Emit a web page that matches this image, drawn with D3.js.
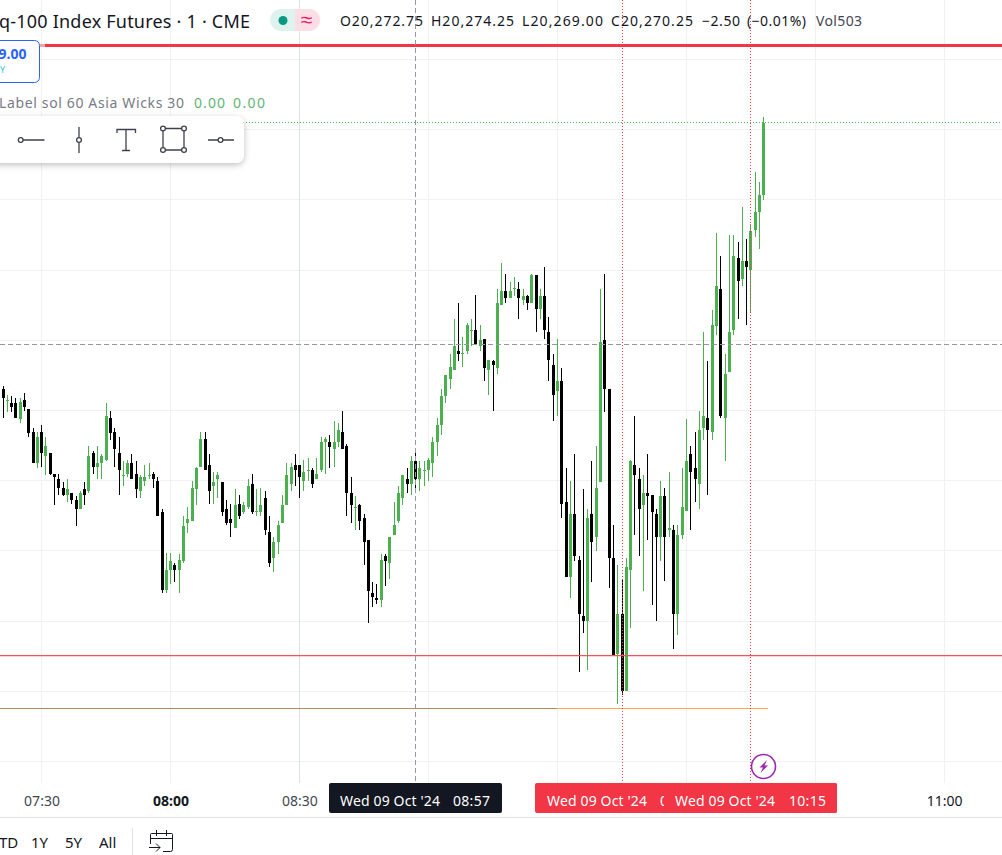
<!DOCTYPE html>
<html>
<head>
<meta charset="utf-8">
<script src="https://cdn.jsdelivr.net/npm/d3@7"></script>
<style>
  html, body { margin: 0; padding: 0; background: #fff; overflow: hidden; }
  svg { display: block; font-family: "Noto Sans", sans-serif; }
</style>
</head>
<body>
<svg id="chart" width="1002" height="855"></svg>
<script>
// prices are stored as points above this base, quarter point ticks
const basePrice = 20270;

const firstCandle = Date.UTC(2024, 9, 9, 7, 21);

const opens = [
  13, 11.5, 11, 11, 8.75, 11.5, 10.25, 7, 2.5, 7,
  3.5, 4, 1, .25, -1, -2, -1.75, -2.75, -4, -1.25,
  -1.5, 4, 2, 2.5, 3, 9, 7, 4, .75, 1,
  2.5, 1, -1.5, 0, .75, 1, 0, -4.5, -15.5, -12.75,
  -12, -12.75, -11.5, -6, -5.75, -1.25, 2, 6, 2.25, -.75,
  .25, -.25, -4, -5.5, -6.75, -3.25, -4.5, -3.75, -.5, -4.25,
  -4.5, -2.5, -7.25, -11, -8.75, -6, -3.5, -.5, 2.25, 2.25,
  0, 1.5, 1.5, .25, 1.5, 5.5, 5.5, 4.5, 5.5, 7,
  5, -1.75, -3.75, -3.5, -5.25, -8.5, -16, -16.75, -17, -10.75,
  -11.75, -7.75, -5.75, -2.5, .25, -.5, 2.75, .25, 1.5, 1.5,
  2.5, 5.5, 8, 12, 14.5, 15.75, 18.5, 18.25, 18.5, 21.5,
  21.5, 19.25, 20.25, 15.75, 17, 16, 25, 27, 26, 27.5,
  27.25, 25.75, 26.25, 25.25, 29.25, 24.5, 26.25, 21.25, 16.5, 12.75,
  14.25, -3, -13.75, -4.75, -11.25, -19.25, -20, -4.75, -8, -.25,
  20, 13, -11, -24.75, -19, -30, -12.75, 2.25, .25, -3.5,
  -1.75, -2, -4.75, -8, -2.25, -7, -7, -19, -7.75, -4.25,
  3.75, 1.75, -.5, 7.5, 9, 7, 22, 27.25, 9, 15.5,
  21.5, 31.75, 28.75, 31.25, 30, 35.75, 38.25, 40.75
];
const highs = [
  13.5, 12.25, 12, 11.75, 11.75, 12.5, 10.25, 7.5, 7, 8,
  6.25, 4, 1, 1, -.25, .25, -1.75, -2.25, -1.5, -.25,
  5, 4.25, 5, 3.75, 11, 10, 7.5, 6.25, 2.75, 3,
  3.75, 2.75, .75, 2.25, 2.5, 1.25, .5, -4, -10.25, -10.25,
  -11.75, -10.5, -5, -3.75, 0, 2, 7, 7, 3.75, 1.25,
  1.25, -.25, -2.75, -3.25, -1.25, -2, -3, .25, 1, -1.25,
  -1, -1.5, -5, -8, -5.75, -2, 2.5, 2.5, 3.75, 2.25,
  3, 3.25, 1.75, 3.25, 6.25, 6.25, 6.5, 8.5, 8.25, 10,
  5.25, .5, -2.25, -3.25, -4.75, -8.5, -14.5, -14.75, -10.5, -10.5,
  -8, -3, -.75, .75, 1.75, 3.5, 4.25, 2.75, 2.75, 3.25,
  6.25, 9, 13, 15, 18, 23, 25.25, 20.5, 22.5, 23,
  26.5, 22.25, 20.25, 17.25, 17.25, 27.25, 31, 29.5, 28.25, 29,
  28.25, 27.25, 26.5, 29.5, 29.25, 27.25, 30.5, 23.25, 18, 20.25,
  16, 1.75, 0, 3.75, -10.75, -1.25, -4, 2.75, 5, 27.25,
  29.5, 13, -6.25, -12, -14, -11, 3, 9.25, 1.75, .75,
  3.75, -2, -4, 0, -1, 1.25, -6.25, -6.25, 1.75, 8.75,
  5, 7, 10, 21.25, 17, 24.25, 35.25, 32, 18, 35,
  35, 34, 39, 34.5, 36.5, 44, 42.5, 51.75
];
const lows = [
  9, 9.75, 9.75, 9, 8.25, 10, 6.25, 2.5, 1.75, 2,
  .75, .75, -3.5, -2, -2.25, -3, -3.25, -6.5, -4, -3.5,
  -1.75, 1, .25, .25, 2.75, 5.75, 2, -2, -.75, .5,
  .25, -2.5, -2.5, -.75, .25, -1, -5, -16, -16, -14.75,
  -14.5, -16, -11.75, -7.5, -5.75, -3.5, 2, 1.5, -3.25, -3.25,
  -2.5, -5, -6.25, -8, -6.75, -5.5, -4.75, -4, -4.75, -5,
  -5, -7.75, -12.25, -13, -10.5, -6, -3.5, -1.5, -.75, -2.5,
  -1.5, 0, -1, .25, 1.25, 1, 1.75, 2, 4.75, 4.5,
  -5, -6, -7, -7, -12, -20.25, -18, -17.5, -18, -15,
  -14, -7.75, -6, -3.5, -1.75, -2, -1, -1.5, -.75, 0,
  .5, 3.5, 6.5, 11, 13, 15.75, 17, 16.25, 18, 19.25,
  19.5, 18.5, 14.25, 12.25, 10, 15.25, 25, 25.25, 26, 26.25,
  23, 25, 24.25, 25.25, 21.25, 23, 20.25, 14.25, 8.5, 9.25,
  -5.25, -13.75, -16.75, -11.5, -27.25, -21.75, -27, -14.5, -10, -.25,
  9.75, -15.25, -25, -31.75, -30.5, -30, -21, -7.75, -10.75, -15.75,
  -8.5, -17.75, -20, -11.5, -14.25, -8, -24, -22, -8.25, -4.25,
  -7, -3, -4, 5.75, -2, 5.75, 20.75, 9, 2.75, 15.5,
  20.75, 23, 27.75, 22.25, 24, 34.75, 33, 40
];
const closes = [
  11.75, 11.5, 10.5, 9, 11.25, 10.5, 6.75, 2.5, 6.25, 4,
  5, 1, .5, -1, -2, -1.25, -2.75, -4, -1.75, -2,
  3.5, 2, 2.5, 3.5, 9.25, 6.75, 4.5, 1.5, .75, 2.5,
  .25, -1.25, .5, .5, .75, .25, -5, -15.5, -12.75, -11.5,
  -12.75, -11.25, -6.5, -5.5, -1, 1.75, 6, 1.5, -1.5, -.25,
  .75, -4.5, -6, -6, -3.5, -5, -3.5, -.75, -4.5, -4.25,
  -3.5, -7, -11.75, -8.75, -6.25, -3.5, .75, 2, 1.5, .5,
  1.25, 1.5, -.5, 1, 5.5, 6, 4.75, 5.5, 7.25, 4.5,
  -1.75, -3.5, -3.75, -5.75, -8.75, -15.75, -16.5, -17, -11.25, -11.5,
  -8, -6.25, -1.75, .75, -.5, 2.75, .25, 1.75, 1.5, 3,
  5.5, 8, 12, 15, 16.25, 19.25, 18, 18.25, 22.25, 21.5,
  19.5, 20, 16, 17.25, 16.5, 25.25, 27, 26, 27, 27.5,
  26, 26.25, 25.25, 29.25, 24.5, 26.25, 21.5, 17.25, 12.25, 14.25,
  -3.25, -13.75, -4.75, -10.75, -19, -20, -5.25, -8.75, -1, 19.75,
  13, -11, -25, -19, -30, -12.25, 2.75, .75, -4, -1.75,
  -2.25, -4.5, -8, -2.25, -8, -6.75, -19, -7.75, -3.75, 2.75,
  1.25, .25, 7.25, 9.25, 7.25, 22.25, 27.75, 9.25, 15.25, 21.25,
  32, 28.5, 31.25, 30.5, 35.5, 38.25, 40.75, 51
];

const priceGrid = [60, 50, 40, 30, 20, 10, 0, -10, -20, -30, -40];
const timeGrid = ["07:30", "08:00", "08:30", "09:00", "09:30", "10:00", "10:30", "11:00"];
const timeLabels = ["07:30", "08:00", "08:30", "11:00"];

const crosshairLevel = 19.4;
const lastClose = 51;
const upperSession = -24.85;
const lowerSession = -32.5;

const crosshairTime = "08:57";
const markerTimes = ["09:45", "10:15"];

const green = "#4caf50", black = "#000000", red = "#f23645";

const svg = d3.select("#chart");

const at = s => {
  const [h, m] = s.split(":").map(Number);
  return Date.UTC(2024, 9, 9, h, m);
};

const xScale = d3.scaleUtc()
  .domain([at("07:30"), at("11:00")])
  .range([41.5, 944.2]);

const yScale = d3.scaleLinear()
  .domain([60, -40])
  .range([59.5, 761.5]);

const crispX = t => Math.floor(xScale(t) + 0.2) + 0.5;
const crispY = p => Math.floor(yScale(p)) + 0.5;

const candles = opens.map((o, i) => ({
  time: firstCandle + i * 60000,
  open: o, high: highs[i], low: lows[i], close: closes[i]
}));

// grid
const grid = svg.append("g");
grid.selectAll(".h").data(priceGrid).join("line")
  .attr("x1", 0).attr("x2", 1002)
  .attr("y1", crispY).attr("y2", crispY)
  .attr("stroke", "#f0f1f3");
grid.selectAll(".v").data(timeGrid).join("line")
  .attr("x1", d => crispX(at(d))).attr("x2", d => crispX(at(d)))
  .attr("y1", 0).attr("y2", 783)
  .attr("stroke", d => d === "08:30" ? "#dde2e3" : "#f0f1f3");

svg.append("line").attr("x1", 0).attr("x2", 1002).attr("y1", crispY(lastClose)).attr("y2", crispY(lastClose))
  .attr("stroke", green).attr("stroke-dasharray", "1,2");

// candles
const candleX = d => Math.floor(xScale(d.time) + 0.2);
const candleColor = d => d.close >= d.open ? green : black;
const g = svg.append("g").selectAll("g").data(candles).join("g");
g.append("rect")
  .attr("x", candleX).attr("width", 1)
  .attr("y", d => Math.round(yScale(d.high)))
  .attr("height", d => Math.max(1, Math.round(yScale(d.low)) - Math.round(yScale(d.high))))
  .attr("fill", candleColor);
g.append("rect")
  .attr("x", d => candleX(d) - 1).attr("width", 3)
  .attr("y", d => Math.round(yScale(Math.max(d.open, d.close))))
  .attr("height", d => Math.max(1, Math.round(yScale(Math.min(d.open, d.close))) - Math.round(yScale(Math.max(d.open, d.close)))))
  .attr("fill", candleColor);

// session levels sit over the candles
svg.append("line").attr("x1", 0).attr("x2", 1002).attr("y1", crispY(upperSession) + 0.2).attr("y2", crispY(upperSession) + 0.2)
  .attr("stroke", "#f4525f").attr("stroke-width", 1.3);
svg.append("line").attr("x1", 0).attr("x2", 557).attr("y1", crispY(lowerSession)).attr("y2", crispY(lowerSession))
  .attr("stroke", "#b58a5c").attr("stroke-width", 1.2);
svg.append("line").attr("x1", 557).attr("x2", 768).attr("y1", crispY(lowerSession)).attr("y2", crispY(lowerSession))
  .attr("stroke", "#f9ad4e").attr("stroke-width", 1.2);

// red line on top
svg.append("rect").attr("x", 40).attr("y", 44).attr("width", 5).attr("height", 3).attr("fill", "#f5a3aa");
svg.append("rect").attr("x", 45).attr("y", 44).attr("width", 957).attr("height", 3).attr("fill", red);

// crosshair and date markers
svg.append("line").attr("x1", 0).attr("x2", 1002).attr("y1", crispY(crosshairLevel)).attr("y2", crispY(crosshairLevel))
  .attr("stroke", "#9598a1").attr("stroke-dasharray", "5,3");
svg.append("line").attr("x1", crispX(at(crosshairTime))).attr("x2", crispX(at(crosshairTime))).attr("y1", 0).attr("y2", 783)
  .attr("stroke", "#9598a1").attr("stroke-dasharray", "5,3");
svg.selectAll(".marker").data(markerTimes).join("line")
  .attr("x1", d => crispX(at(d))).attr("x2", d => crispX(at(d)))
  .attr("y1", 0).attr("y2", 783)
  .attr("stroke", red).attr("stroke-dasharray", "1,2");

// time axis
const axis = svg.append("g")
  .attr("transform", "translate(0,783)")
  .call(d3.axisBottom(xScale).tickValues(timeLabels.map(at)).tickSize(0).tickPadding(13).tickFormat(d3.utcFormat("%H:%M")));
axis.select(".domain").remove();
axis.selectAll("text")
  .attr("font-size", 14).attr("font-family", '"Noto Sans", sans-serif')
  .attr("font-weight", d => d === at("08:00") ? 700 : 400)
  .attr("fill", d => d === at("08:00") || d === at("11:00") ? "#131722" : "#434651");

const label = (x, y, s, o = {}) => {
  const t = svg.append("text")
    .attr("x", x).attr("y", y).text(s)
    .attr("font-size", o.size || 14)
    .attr("font-weight", o.weight || 400)
    .attr("fill", o.fill || "#131722")
    .attr("text-anchor", o.anchor || "start");
  // the reference font runs a little wider than Noto Sans
  if (o.width) t.attr("textLength", o.width).attr("lengthAdjust", "spacing");
  return t;
};

svg.append("rect").attr("x", 329).attr("y", 783).attr("width", 173).attr("height", 30).attr("rx", 2).attr("fill", "#131722");
label(340, 806, "Wed 09 Oct '24", { fill: "#fff", width: 100 });
label(453, 806, "08:57", { fill: "#fff", width: 37 });

svg.append("rect").attr("x", 535).attr("y", 783).attr("width", 302).attr("height", 30).attr("rx", 2).attr("fill", red);
label(547, 806, "Wed 09 Oct '24", { fill: "#fff", width: 100 });
label(660, 806, "0", { fill: "#fff" });
svg.append("rect").attr("x", 664).attr("y", 783).attr("width", 173).attr("height", 30).attr("rx", 2).attr("fill", red);
label(675, 806, "Wed 09 Oct '24", { fill: "#fff", width: 100 });
label(789, 806, "10:15", { fill: "#fff", width: 37 });

// lightning badge on the last bar
svg.append("circle").attr("cx", 763.5).attr("cy", 766.5).attr("r", 12).attr("fill", "#fff").attr("stroke", "#9c27b0").attr("stroke-width", 1.6);
svg.append("path").attr("d", "M767,760 L759.5,767.5 L763,767.5 L760.5,773 L768,765.5 L764.5,765.5 Z").attr("fill", "#9c27b0");

// bottom bar
svg.append("line").attr("x1", 0).attr("x2", 1002).attr("y1", 817.5).attr("y2", 817.5).attr("stroke", "#e0e3eb");
svg.append("line").attr("x1", 132.5).attr("x2", 132.5).attr("y1", 828).attr("y2", 855).attr("stroke", "#e0e3eb");
const ranges = [["TD", -1], ["1Y", 31], ["5Y", 65], ["All", 99]];
ranges.forEach(([s, x]) => label(x, 848, s, { size: 15 }));
svg.append("path")
  .attr("d", "M150.5,844 V834.5 Q150.5,833.5 151.5,833.5 H171.5 Q172.5,833.5 172.5,834.5 V849.5 Q172.5,851.5 170.5,851.5 H163 M150.5,838.5 H172.5 M156.5,830 V836 M166.5,830 V836 M149,847.5 H160 M156,843.5 L160,847.5 L156,851.5")
  .attr("fill", "none").attr("stroke", "#131722");

// legend header
label(-1, 27.5, "q-100 Index Futures · 1 · CME", { size: 18, width: 251 });
svg.append("path").attr("d", "M295,9 H281 A11,11 0 0 0 281,31 H295 Z").attr("fill", "#def2ee");
svg.append("path").attr("d", "M295,9 H309 A11,11 0 0 1 309,31 H295 Z").attr("fill", "#fbdde6");
svg.append("circle").attr("cx", 283).attr("cy", 20.5).attr("r", 4.5).attr("fill", "#089981");
label(306.5, 27, "≈", { size: 21, fill: "#e91e63", anchor: "middle" });
label(340, 26, "O20,272.75", { width: 83 });
label(431, 26, "H20,274.25", { width: 83 });
label(522, 26, "L20,269.00", { width: 81 });
label(611, 26, "C20,270.25", { width: 82 });
label(702, 26, "−2.50", { width: 38 });
label(747, 26, "(−0.01%)", { width: 59 });
label(816, 26, "Vol503", { fill: "#434651", width: 46 });

// drawing label on the left edge
svg.append("rect").attr("x", -8).attr("y", 40.5).attr("width", 47.5).attr("height", 42).attr("rx", 5)
  .attr("fill", "#fff").attr("stroke", "#2962ff");
label(26.5, 59, "9.00", { fill: "#2962ff", weight: 700, anchor: "end" });
label(0, 73, "Y", { size: 9, fill: "#26c6da" });

label(-1, 107.5, "Label sol 60 Asia Wicks 30", { fill: "#787b86", width: 185 });
label(194, 107.5, "0.00", { fill: "#5fb576", width: 31 });
label(233, 107.5, "0.00", { fill: "#5fb576", width: 32 });

// floating drawing toolbar
const defs = svg.append("defs");
const blur = defs.append("filter").attr("id", "shadow").attr("x", "-10%").attr("y", "-30%").attr("width", "120%").attr("height", "170%");
blur.append("feDropShadow").attr("dx", 0).attr("dy", 2).attr("stdDeviation", 3).attr("flood-color", "#000").attr("flood-opacity", 0.25);
svg.append("rect").attr("x", -10).attr("y", 116).attr("width", 254).attr("height", 47).attr("rx", 8).attr("fill", "#fff").attr("filter", "url(#shadow)");
const icons = svg.append("g").attr("fill", "none").attr("stroke", "#3f424d").attr("stroke-width", 1.3);
icons.append("path").attr("d", "M23,140 H44.5 M79,127 V137.5 M79,142.5 V153 M208,140 H218 M223,140 H234");
icons.append("path").attr("d", "M117,133 V129.5 H135.5 V133 M126,129.5 V150.5 M122,150.5 H130");
icons.append("path").attr("d", "M165,128.5 H182 M165,150 H182 M163,131 V147.5 M184,131 V147.5");
const knobs = [[20.7, 140], [79, 140], [163, 128.5], [184, 128.5], [163, 150], [184, 150], [220.5, 140]];
icons.selectAll("circle").data(knobs).join("circle")
  .attr("cx", d => d[0]).attr("cy", d => d[1]).attr("r", 2.4).attr("fill", "#fff");
</script>
</body>
</html>
